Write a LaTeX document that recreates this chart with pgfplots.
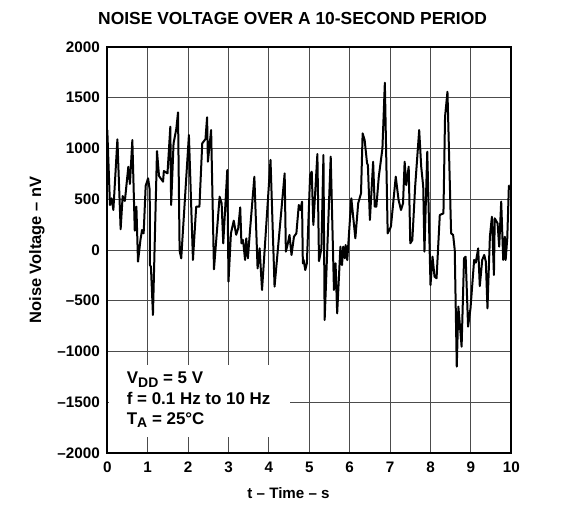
\documentclass[border=0pt]{standalone}
\usepackage{pgfplots}
\pgfplotsset{compat=1.18}
\usepackage{fontspec}
\setmainfont{Liberation Sans}
\begin{document}
\begin{tikzpicture}
\begin{axis}[
  at={(0,0)}, anchor=south west,
  scale only axis, width=404bp, height=406bp,
  xmin=0, xmax=10, ymin=-2000, ymax=2000,
  xtick={0,1,...,10}, ytick={-2000,-1500,...,2000},
  yticklabels={\textendash2000,\textendash1500,\textendash1000,\textendash500,0,500,1000,1500,2000},
  xticklabels={0,1,2,3,4,5,6,7,8,9,10},
  grid=major,
  major grid style={line width=0.9bp, black!70},
  major tick length=0pt,
  axis line style={line width=1.9bp, black},
  xticklabel style={font=\fontsize{15.3}{15.3}\selectfont\bfseries, anchor=center, yshift=-14.2bp, inner sep=0pt},
  yticklabel style={font=\fontsize{15.3}{15.3}\selectfont\bfseries, anchor=east, xshift=-7.3bp, inner sep=0pt},
  clip=false,
]
\addplot[black, line width=2bp, line join=round] coordinates {
(0,1182) (0.066,443) (0.107,509) (0.15,394) (0.25,1090) (0.33,204) (0.38,532) (0.435,483)
(0.52,820) (0.56,650) (0.62,1083) (0.68,190) (0.72,427) (0.76,-115) (0.82,98) (0.86,197)
(0.90,164) (0.95,634) (1.01,706) (1.05,591) (1.055,-148) (1.08,-164) (1.13,-640) (1.23,975)
(1.28,729) (1.38,673) (1.40,778) (1.49,755) (1.56,1215) (1.58,443) (1.64,1050) (1.71,1198)
(1.75,1356) (1.79,-7) (1.83,-82) (2.02,1133) (2.12,-98) (2.20,427) (2.28,427) (2.35,1050)
(2.43,1093) (2.47,1307) (2.49,870) (2.57,1182) (2.64,-190) (2.78,525) (2.83,460) (2.87,66)
(2.97,788) (3.00,-312) (3.06,164) (3.13,289) (3.19,150) (3.24,213) (3.29,420) (3.32,66)
(3.36,98) (3.41,-98) (3.44,115) (3.48,-82) (3.53,181) (3.64,722) (3.72,-181) (3.77,16)
(3.83,-394) (4.04,887) (4.14,-361) (4.39,755) (4.42,-16) (4.47,66) (4.51,148) (4.56,-49)
(4.62,131) (4.68,164) (4.74,443) (4.78,394) (4.82,476) (4.84,-131) (4.86,-98) (4.90,-197)
(4.94,-131) (5.02,739) (5.06,772) (5.10,246) (5.20,945) (5.24,-110) (5.30,16) (5.35,936)
(5.38,-690) (5.53,919) (5.61,-394) (5.65,-131) (5.69,-624) (5.77,33) (5.81,-148) (5.84,33)
(5.88,-82) (5.90,49) (5.94,-99) (6.04,509) (6.14,115) (6.21,460) (6.28,558) (6.32,1149)
(6.37,1083) (6.43,854) (6.45,837) (6.50,296) (6.58,870) (6.62,427) (6.66,427) (6.72,722)
(6.81,1000) (6.87,1648) (6.94,164) (7.02,230) (7.14,722) (7.21,492) (7.27,394) (7.32,460)
(7.36,870) (7.40,640) (7.46,821) (7.50,66) (7.55,98) (7.62,624) (7.72,1182) (7.77,821)
(7.82,624) (7.85,-16) (7.92,968) (8.00,-345) (8.05,-66) (8.10,-263) (8.15,-279) (8.23,345)
(8.32,361) (8.36,1313) (8.42,1559) (8.51,164) (8.56,148) (8.60,0) (8.65,-1149) (8.69,-558)
(8.77,-952) (8.83,-82) (8.87,-66) (8.93,-755) (8.99,-575) (9.08,-98) (9.12,-125) (9.18,16)
(9.22,-355) (9.28,-98) (9.33,-49) (9.37,-115) (9.41,-575) (9.47,131) (9.52,328) (9.57,-246)
(9.59,312) (9.66,263) (9.70,33) (9.75,476) (9.80,-98) (9.84,131) (9.86,-98) (9.90,115)
(9.94,634) (9.96,634)
};
\end{axis}
\fill[white] (1.3bp,16bp) rectangle (182.7bp,88bp);
\node[anchor=base west, inner sep=0pt, font=\fontsize{17}{17}\selectfont\bfseries] at (19.4bp,69bp) {V\raisebox{-0.35ex}{\fontsize{14}{14}\selectfont DD} = 5 V};
\node[anchor=base west, inner sep=0pt, font=\fontsize{17}{17}\selectfont\bfseries] at (19.4bp,48bp) {f = 0.1 Hz to 10 Hz};
\node[anchor=base west, inner sep=0pt, font=\fontsize{17}{17}\selectfont\bfseries] at (19.4bp,28.7bp) {T\raisebox{-0.35ex}{\fontsize{14}{14}\selectfont A} = 25°C};
\node[inner sep=0pt, font=\fontsize{17.5}{17.5}\selectfont\bfseries] at (185.3bp,434.7bp) {NOISE VOLTAGE OVER A 10-SECOND PERIOD};
\node[inner sep=0pt, font=\fontsize{15.2}{15.2}\selectfont\bfseries] at (181.2bp,-39.7bp) {t \textendash{} Time \textendash{} s};
\node[inner sep=0pt, rotate=90, font=\fontsize{16.5}{16.5}\selectfont\bfseries] at (-70.3bp,203bp) {Noise Voltage \textendash{} nV};
\pgfresetboundingbox
\path[use as bounding box] (-107.3bp,-65bp) rectangle (459.7bp,453bp);
\end{tikzpicture}
\end{document}
